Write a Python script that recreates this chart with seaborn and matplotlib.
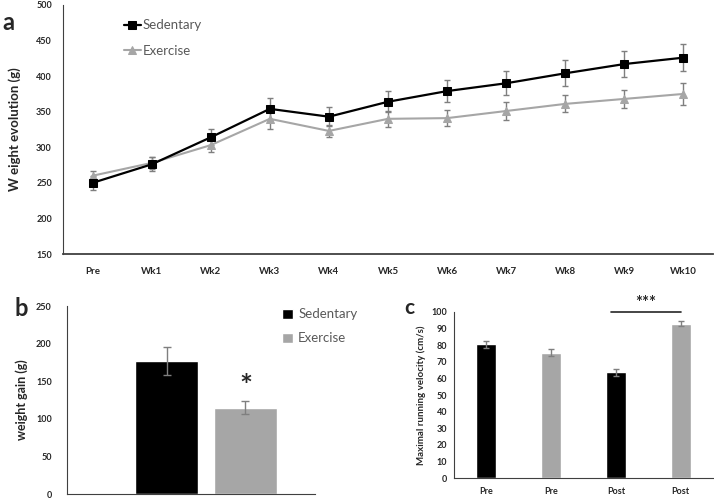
import numpy as np
import pandas as pd
import matplotlib
matplotlib.use("Agg")
import matplotlib.pyplot as plt
import seaborn as sns

# panel a: weekly body weight (g), mean and SEM
weeks = ["Pre", "Wk1", "Wk2", "Wk3", "Wk4", "Wk5", "Wk6", "Wk7", "Wk8", "Wk9", "Wk10"]
sed_weight = [250, 276, 314, 354, 343, 364, 379, 390, 404, 417, 426]
sed_err = [10, 10, 11, 15, 13, 15, 16, 17, 18, 18, 19]
ex_weight = [260, 278, 303, 340, 323, 340, 341, 351, 361, 368, 375]
ex_err = [7, 9, 9, 14, 9, 11, 11, 12, 12, 13, 15]

# panel b: total weight gain (g)
groups = ["Sedentary", "Exercise"]
gain = [177, 115]
gain_err = [19, 9]

# panel c: maximal running velocity (cm/s)
vel_cond = ["Pre", "Pre", "Post", "Post"]
vel_group = ["Sedentary", "Exercise", "Sedentary", "Exercise"]
velocity = [80.4, 75.3, 63.6, 92.8]
vel_err = [2.0, 2.1, 2.1, 1.6]

BLACK = "#000000"
GREY = "#A6A6A6"
ERR = "#7F7F7F"
TXT = "#595959"
palette = {"Sedentary": BLACK, "Exercise": GREY}

sns.set_style("white")
plt.rcParams["font.family"] = ["Lato", "DejaVu Sans"]

fig = plt.figure(figsize=(7.14, 4.98), dpi=100)
W, H = 714, 498

def px_axes(left, top, right, bottom):
    return fig.add_axes([left / W, 1 - bottom / H, (right - left) / W, (bottom - top) / H])

# ---------- a ----------
ax = px_axes(63, 5, 713, 254)
df_a = pd.DataFrame({"week": weeks * 2,
                     "weight": sed_weight + ex_weight,
                     "group": ["Sedentary"] * len(weeks) + ["Exercise"] * len(weeks)})
pos = np.arange(len(weeks))
ax.errorbar(pos, sed_weight, yerr=sed_err, fmt="none", ecolor=ERR, elinewidth=1, capsize=2.5, zorder=1)
ax.errorbar(pos, ex_weight, yerr=ex_err, fmt="none", ecolor=ERR, elinewidth=1, capsize=2.5, zorder=1)
sns.lineplot(data=df_a[df_a.group == "Sedentary"], x="week", y="weight", color=BLACK, lw=1.6,
             marker="s", markersize=5.5, markeredgecolor=BLACK, sort=False, label="Sedentary", ax=ax, zorder=3)
sns.lineplot(data=df_a[df_a.group == "Exercise"], x="week", y="weight", color=GREY, lw=1.5,
             marker="^", markersize=6, markeredgecolor=GREY, sort=False, label="Exercise", ax=ax, zorder=2)
ax.set_xlim(-0.5, 10.5)
ax.set_ylim(150, 500)
ax.set_yticks(range(150, 501, 50))
ax.set_xticks(pos, weeks)
ax.set_xlabel("")
ax.set_ylabel("W eight evolution (g)", fontsize=9.5, fontweight="bold", labelpad=11)
ax.tick_params(axis="x", length=0, pad=9, labelsize=7)
ax.tick_params(axis="y", length=0, pad=8, labelsize=6.5)
for lab in ax.get_xticklabels() + ax.get_yticklabels():
    lab.set_fontweight("bold")
    lab.set_color("#262626")
sns.despine(ax=ax)
ax.spines["left"].set_color("#404040")
ax.spines["bottom"].set_color("#404040")
ax.spines["bottom"].set_linewidth(1.3)
ax.legend(loc="upper left", bbox_to_anchor=(0.075, 0.99), frameon=False, fontsize=9.5,
          handlelength=1.3, handletextpad=0.15, labelspacing=1.0, labelcolor=TXT)
fig.text(2 / W, 1 - 22 / H, "a", fontsize=17, fontweight="bold", va="center")

# ---------- b ----------
axb = px_axes(67, 306, 315, 494)
df_b = pd.DataFrame({"group": groups, "gain": gain})
sns.barplot(data=df_b, x="group", y="gain", hue="group", palette=palette, order=groups,
            hue_order=groups, width=0.8, errorbar=None, dodge=False, legend=True, ax=axb)
axb.errorbar(np.arange(2), gain, yerr=gain_err, fmt="none", ecolor=ERR, elinewidth=1, capsize=3)
axb.set_xlim(-1.26, 1.88)
axb.set_ylim(0, 250)
axb.set_yticks(range(0, 251, 50))
axb.set_xticks([])
axb.set_xlabel("")
axb.set_ylabel("weight gain (g)", fontsize=9, fontweight="bold", labelpad=6)
axb.tick_params(axis="y", length=0, pad=11, labelsize=6.5)
for lab in axb.get_yticklabels():
    lab.set_fontweight("bold")
    lab.set_color("#262626")
sns.despine(ax=axb)
axb.spines["left"].set_color("#404040")
axb.spines["bottom"].set_color("#404040")
sns.move_legend(axb, "upper left", bbox_to_anchor=(0.82, 1.05), frameon=False, title=None,
                fontsize=9.5, handlelength=0.8, handleheight=0.8, handletextpad=0.4,
                labelspacing=0.9, labelcolor=TXT)
axb.text(1, gain[1] + gain_err[1] + 18, "*", ha="center", va="center", fontsize=22, fontweight="bold")
fig.text(14 / W, 1 - 308 / H, "b", fontsize=17, fontweight="bold", va="center")

# ---------- c ----------
axc = px_axes(454, 311.7, 713, 478.3)
slots = [f"{g} {c}" for g, c in zip(vel_group, vel_cond)]
df_c = pd.DataFrame({"slot": slots, "velocity": velocity, "group": vel_group})
sns.barplot(data=df_c, x="slot", y="velocity", hue="group", palette=palette, order=slots,
            width=0.31, errorbar=None, dodge=False, legend=False, ax=axc)
axc.errorbar(np.arange(4), velocity, yerr=vel_err, fmt="none", ecolor=ERR, elinewidth=1, capsize=2.5)
axc.set_xlim(-0.5, 3.5)
axc.set_ylim(0, 100)
axc.set_yticks(range(0, 101, 10))
axc.set_xticks(np.arange(4), vel_cond)
axc.set_xlabel("")
axc.set_ylabel("Maximal running velocity (cm/s)", fontsize=7, fontweight="bold", labelpad=4)
axc.tick_params(axis="x", length=0, pad=6, labelsize=6.5)
axc.tick_params(axis="y", length=0, pad=5, labelsize=6.5)
for lab in axc.get_xticklabels() + axc.get_yticklabels():
    lab.set_fontweight("bold")
    lab.set_color("#262626")
sns.despine(ax=axc)
axc.spines["left"].set_color("#404040")
axc.spines["bottom"].set_color("#404040")
axc.plot([1.93, 3.0], [100, 100], color="#262626", lw=1.2, clip_on=False)
axc.text(2.46, 105, "***", ha="center", va="center", fontsize=12, fontweight="bold",
         color="#262626", clip_on=False)
fig.text(404 / W, 1 - 308 / H, "c", fontsize=15, fontweight="bold", va="center")

fig.savefig("out.png", dpi=100)
